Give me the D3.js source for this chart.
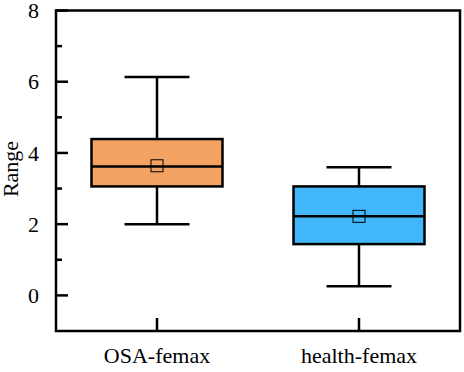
<!DOCTYPE html>
<html><head><meta charset="utf-8">
<script src="https://cdn.jsdelivr.net/npm/d3@7"></script>
<style>body{margin:0;background:#fff}svg{display:block}</style>
</head><body>
<svg id="c" width="464" height="372"></svg>
<script>
const categories = ["OSA-femax", "health-femax"];
const whiskerLow = [2.0, 0.26];
const q1 = [3.06, 1.44];
const median = [3.62, 2.22];
const q3 = [4.39, 3.06];
const whiskerHigh = [6.13, 3.60];
const mean = [3.64, 2.22];
const colors = ["#F4A261", "#41B6F9"];
const yTicks = [0, 2, 4, 6, 8];
const yMinor = [1, 3, 5, 7];

const svg = d3.select("#c");
const L = 56, R = 460, T = 10.5, B = 331;
const y = d3.scaleLinear().domain([-1, 8]).range([B, T]);
const x = d3.scalePoint().domain(categories).range([L, R]).padding(0.5);
const font = "'Liberation Serif', 'Times New Roman', serif";
const fs = 22;

svg.append("g").selectAll("line").data(yTicks).join("line")
  .attr("x1", L).attr("x2", L + 12).attr("y1", d => y(d)).attr("y2", d => y(d))
  .attr("stroke", "#000").attr("stroke-width", 2.5);
svg.append("g").selectAll("line").data(yMinor).join("line")
  .attr("x1", L).attr("x2", L + 6).attr("y1", d => y(d)).attr("y2", d => y(d))
  .attr("stroke", "#000").attr("stroke-width", 2.5);
svg.append("g").selectAll("text").data(yTicks).join("text")
  .attr("x", L - 17).attr("y", d => y(d)).attr("dy", "0.35em")
  .attr("text-anchor", "end").attr("font-family", font).attr("font-size", fs)
  .text(d => d);

svg.append("g").selectAll("line").data(categories).join("line")
  .attr("x1", d => x(d)).attr("x2", d => x(d)).attr("y1", B).attr("y2", B - 13)
  .attr("stroke", "#000").attr("stroke-width", 2.5);
svg.append("g").selectAll("text").data(categories).join("text")
  .attr("x", d => x(d)).attr("y", 363)
  .attr("text-anchor", "middle").attr("font-family", font).attr("font-size", fs)
  .text(d => d);

svg.append("text").attr("transform", `translate(18,169) rotate(-90)`)
  .attr("text-anchor", "middle").attr("font-family", font).attr("font-size", fs)
  .text("Range");

const boxW = 131, capW = 65;
const g = svg.append("g");
categories.forEach((c, i) => {
  const cx = x(c);
  const bg = g.append("g");
  bg.append("line").attr("x1", cx).attr("x2", cx).attr("y1", y(whiskerHigh[i])).attr("y2", y(q3[i]))
    .attr("stroke", "#000").attr("stroke-width", 2.5);
  bg.append("line").attr("x1", cx).attr("x2", cx).attr("y1", y(q1[i])).attr("y2", y(whiskerLow[i]))
    .attr("stroke", "#000").attr("stroke-width", 2.5);
  [whiskerHigh[i], whiskerLow[i]].forEach(v => {
    bg.append("line").attr("x1", cx - capW / 2).attr("x2", cx + capW / 2).attr("y1", y(v)).attr("y2", y(v))
      .attr("stroke", "#000").attr("stroke-width", 2.5);
  });
  bg.append("rect").attr("x", cx - boxW / 2).attr("width", boxW)
    .attr("y", y(q3[i])).attr("height", y(q1[i]) - y(q3[i]))
    .attr("fill", colors[i]).attr("stroke", "#000").attr("stroke-width", 2.5);
  bg.append("line").attr("x1", cx - boxW / 2).attr("x2", cx + boxW / 2).attr("y1", y(median[i])).attr("y2", y(median[i]))
    .attr("stroke", "#000").attr("stroke-width", 2.5);
  bg.append("rect").attr("x", cx - 6).attr("y", y(mean[i]) - 6).attr("width", 12).attr("height", 12)
    .attr("fill", "none").attr("stroke", "#000").attr("stroke-width", 1);
});

svg.append("rect").attr("x", L).attr("y", T).attr("width", R - L).attr("height", B - T)
  .attr("fill", "none").attr("stroke", "#000").attr("stroke-width", 2.5);
</script>
</body></html>
